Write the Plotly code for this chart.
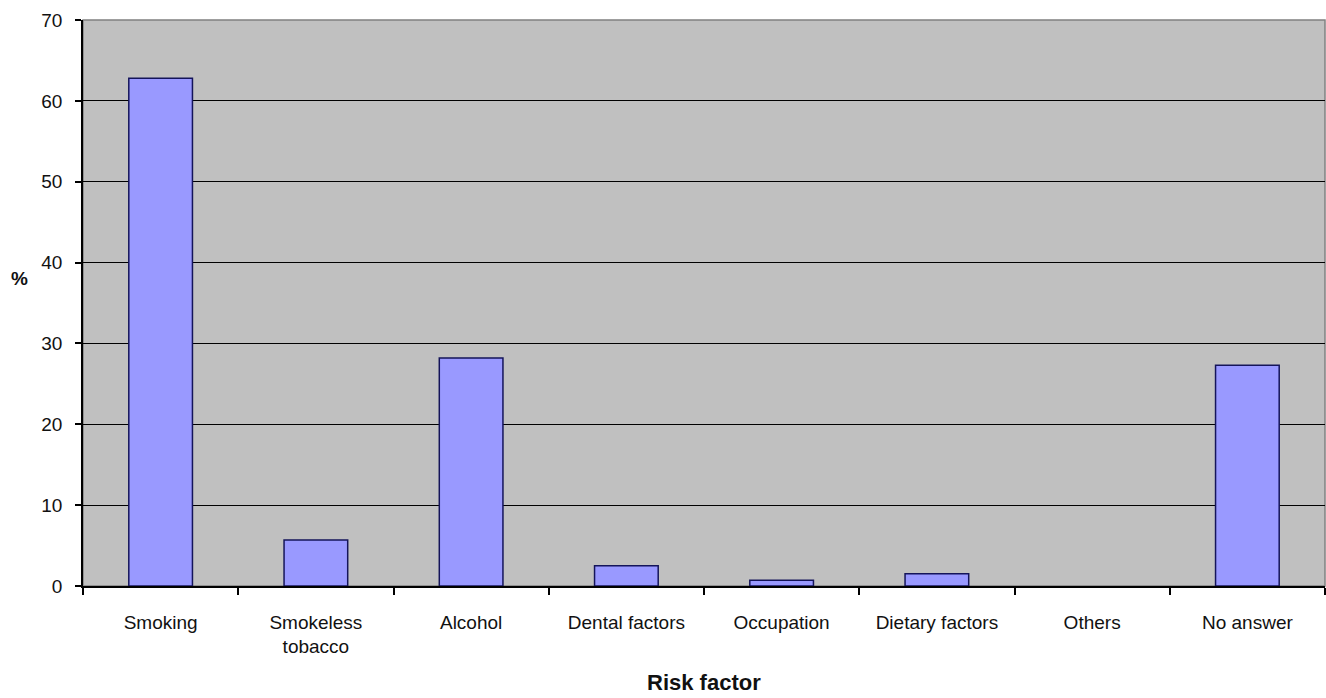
import plotly.graph_objects as go

# Risk factors and share of respondents (%)
categories = ["Smoking", "Smokeless<br>tobacco", "Alcohol", "Dental factors",
              "Occupation", "Dietary factors", "Others", "No answer"]
percent = [62.8, 5.7, 28.2, 2.5, 0.7, 1.5, 0.0, 27.3]
y_ticks = [0, 10, 20, 30, 40, 50, 60, 70]

font_family = "Liberation Sans, Arial, sans-serif"

# zero-height bars get no outline
outline_widths = [1.5 if v > 0 else 0 for v in percent]

fig = go.Figure(
    go.Bar(
        x=categories,
        y=percent,
        marker=dict(color="#9999ff", line=dict(color="#14145a", width=outline_widths)),
        hoverinfo="x+y",
    )
)

fig.update_layout(
    width=1326,
    height=698,
    margin=dict(l=83, r=1, t=20, b=112),
    paper_bgcolor="white",
    plot_bgcolor="#c0c0c0",
    bargap=0.59,
    showlegend=False,
    font=dict(family=font_family, size=19, color="#111111"),
    shapes=[
        dict(type="rect", xref="paper", yref="paper", x0=0, x1=1, y0=0, y1=1,
             line=dict(color="#808080", width=1.5), layer="below"),
    ],
    annotations=[
        dict(text="<b>%</b>", xref="paper", yref="paper", x=-0.051, y=0.544,
             xanchor="center", yanchor="middle", showarrow=False,
             font=dict(size=19, family=font_family, color="#111111")),
        dict(text="<b>Risk factor</b>", xref="paper", yref="paper", x=0.5, y=-0.171,
             xanchor="center", yanchor="middle", showarrow=False,
             font=dict(size=22, family=font_family, color="#111111")),
    ],
)

fig.update_xaxes(
    type="category",
    showline=True, linecolor="black", linewidth=1.5,
    ticks="outside", tickson="boundaries", ticklen=7, tickcolor="black", tickwidth=1.5,
    showgrid=False,
    tickfont=dict(size=19),
    ticklabelstandoff=18,
)

fig.update_yaxes(
    range=[0, 70],
    tickvals=y_ticks,
    showline=True, linecolor="black", linewidth=1.5,
    ticks="outside", ticklen=6, tickcolor="black", tickwidth=1.5,
    showgrid=True, gridcolor="black", gridwidth=1.2,
    zeroline=False,
    tickfont=dict(size=19),
    ticklabelstandoff=9,
)

fig.write_html("out.html")
